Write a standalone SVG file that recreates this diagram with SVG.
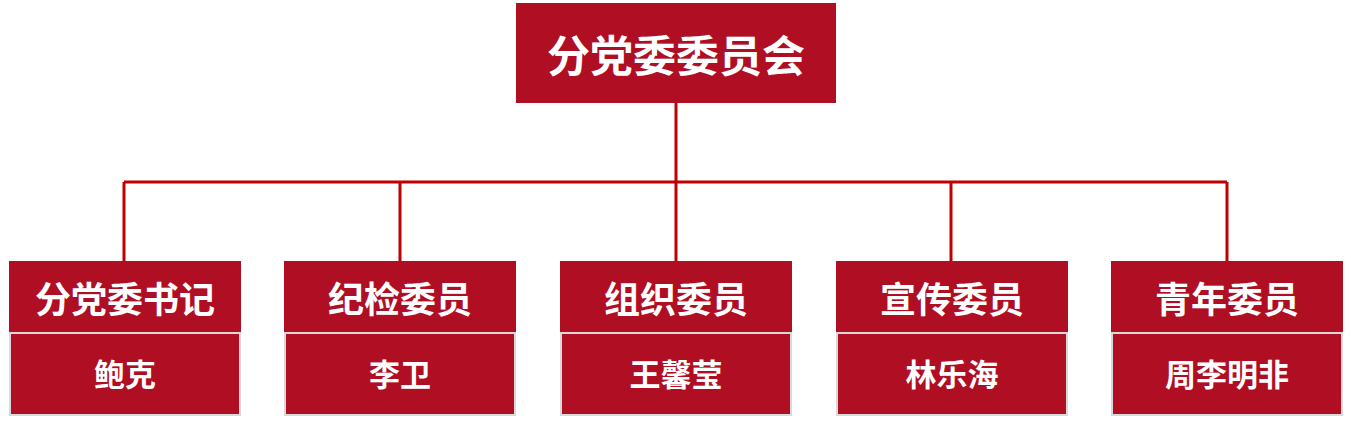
<svg xmlns="http://www.w3.org/2000/svg" width="1351" height="425" viewBox="0 0 1351 425">
<style>
.box{fill:#B00E22}
.sub{fill:#B00E22;stroke:#D9D9D9;stroke-width:2}
.t{font-family:"Noto Sans CJK SC","Noto Sans",sans-serif;font-weight:bold;fill:#fff;text-anchor:middle;dominant-baseline:central}
.h{font-size:36px}
.n{font-size:31px}
.ln{stroke:#C00000;stroke-width:3;fill:none}
</style>
<rect width="1351" height="425" fill="#fff"/>
<g id="connectors">
<path class="ln" d="M676 103V261M124 182H1227M124 182V261M400 182V261M951 182V261M1227 182V261"/>
</g>
<g id="root">
<rect class="box" x="516" y="3" width="320" height="100"/>
<text class="t" x="676" y="53" font-size="43">分党委委员会</text>
</g>
<g id="n1">
<rect class="box" x="9" y="261" width="232" height="72"/>
<rect class="sub" x="10" y="333" width="230" height="82"/>
<text class="t h" x="125" y="297">分党委书记</text>
<text class="t n" x="125" y="372">鲍克</text>
</g>
<g id="n2">
<rect class="box" x="284" y="261" width="232" height="72"/>
<rect class="sub" x="285" y="333" width="230" height="82"/>
<text class="t h" x="400" y="297">纪检委员</text>
<text class="t n" x="400" y="372">李卫</text>
</g>
<g id="n3">
<rect class="box" x="560" y="261" width="232" height="72"/>
<rect class="sub" x="561" y="333" width="230" height="82"/>
<text class="t h" x="676" y="297">组织委员</text>
<text class="t n" x="676" y="372">王馨莹</text>
</g>
<g id="n4">
<rect class="box" x="836" y="261" width="232" height="72"/>
<rect class="sub" x="837" y="333" width="230" height="82"/>
<text class="t h" x="952" y="297">宣传委员</text>
<text class="t n" x="952" y="372">林乐海</text>
</g>
<g id="n5">
<rect class="box" x="1111" y="261" width="232" height="72"/>
<rect class="sub" x="1112" y="333" width="230" height="82"/>
<text class="t h" x="1227" y="297">青年委员</text>
<text class="t n" x="1227" y="372">周李明非</text>
</g>
</svg>
